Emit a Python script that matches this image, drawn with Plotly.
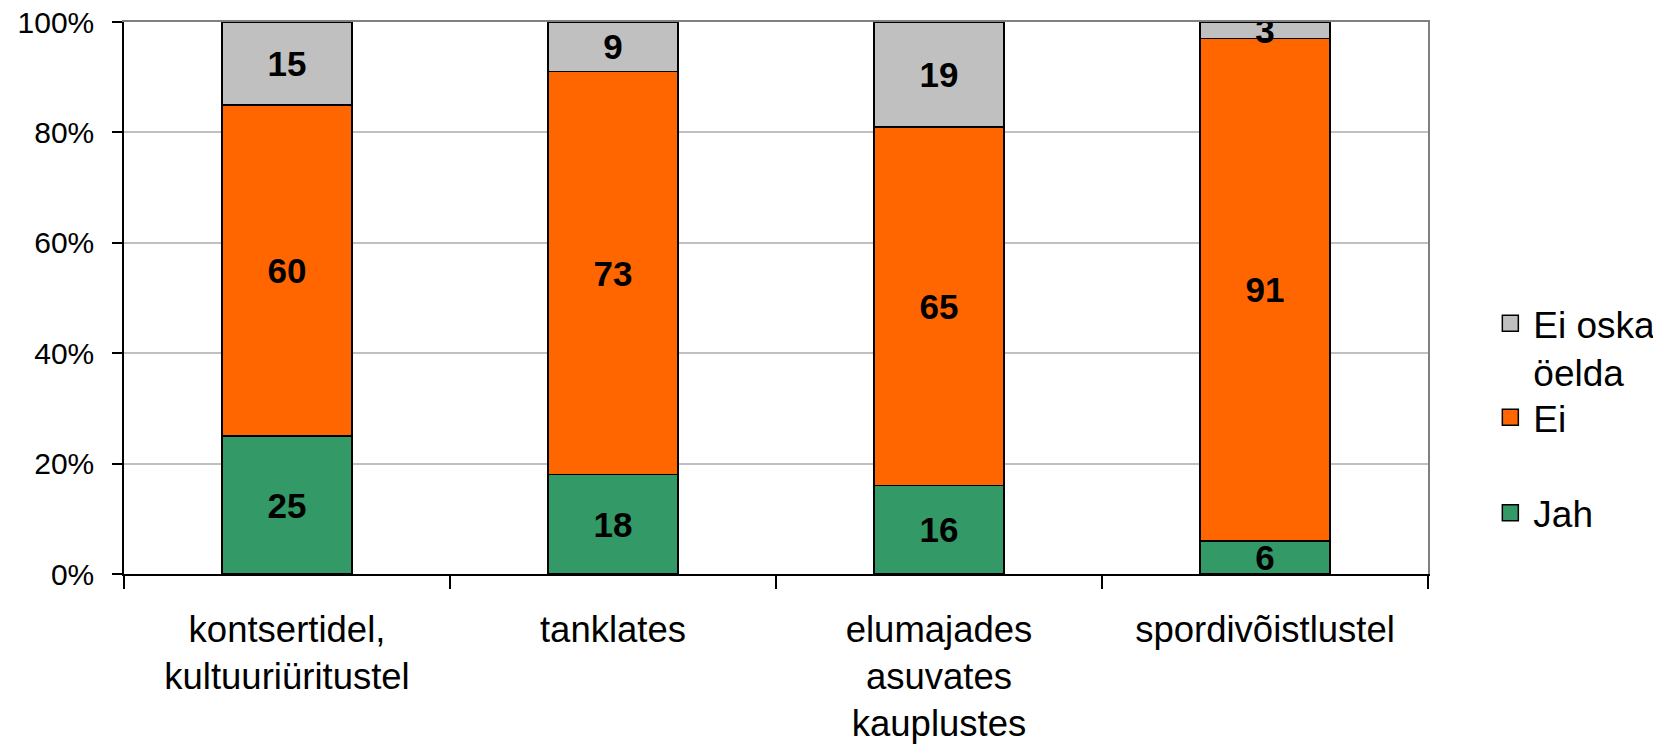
import plotly.graph_objects as go

categories = ["kontsertidel,<br>kultuuriüritustel", "tanklates",
              "elumajades<br>asuvates<br>kauplustes", "spordivõistlustel"]
jah = [25, 18, 16, 6]
ei = [60, 73, 65, 91]
ei_oska = [15, 9, 19, 3]
series_names = ["Jah", "Ei", "Ei oska<br>öelda"]
colors = ["#339966", "#FF6600", "#C0C0C0"]
y_ticks = [0, 20, 40, 60, 80, 100]
y_tick_labels = [f"{v}%" for v in y_ticks]

FONT = "Liberation Sans, Arial, sans-serif"

fig = go.Figure()
for name, vals, col in zip(series_names, [jah, ei, ei_oska], colors):
    fig.add_trace(go.Bar(
        x=categories, y=vals, name=name, showlegend=False,
        marker=dict(color=col, line=dict(color="black", width=1.5)),
        text=vals, textposition="inside", insidetextanchor="middle",
        textangle=0, constraintext="none",
        textfont=dict(family=FONT, size=35, color="black", weight="bold"),
        insidetextfont=dict(family=FONT, size=35, color="black", weight="bold"),
        hoverinfo="skip",
    ))

# legend-only entries, each in its own legend so they can be spaced like the original
legend_ids = ["legend3", "legend2", "legend"]
for name, col, lg in zip(series_names, colors, legend_ids):
    fig.add_trace(go.Scatter(
        x=[None], y=[None], mode="markers", name=name, legend=lg,
        xaxis="x2", yaxis="y2",
        marker=dict(symbol="square", size=22, color=col,
                    line=dict(color="black", width=1.5)),
        hoverinfo="skip",
    ))

leg_common = dict(font=dict(family=FONT, size=37, color="black"),
                  bgcolor="rgba(0,0,0,0)", borderwidth=0, xanchor="left",
                  valign="top", itemwidth=36)
# page body has an 8px default margin: figure is sized so it ends at the window edge
fig.update_layout(
    width=1653, height=739,
    margin=dict(l=116, r=233, t=14, b=173, pad=0, autoexpand=False),
    paper_bgcolor="white", plot_bgcolor="white",
    barmode="stack", bargap=0.6,
    font=dict(family=FONT, color="black"),
    legend=dict(x=1.0455, y=0.41, yanchor="middle", **leg_common),
    legend2=dict(x=1.0455, y=0.283, yanchor="middle", **leg_common),
    legend3=dict(x=1.0455, y=0.11, yanchor="middle", **leg_common),
    xaxis=dict(
        type="category", range=[-0.5, 3.5],
        showline=True, linecolor="black", linewidth=1.5,
        ticks="outside", tickson="boundaries", ticklen=13,
        tickcolor="black", tickwidth=1.5,
        tickfont=dict(family=FONT, size=36.5, color="black"),
        ticklabelstandoff=22, showgrid=False, ticklabeloverflow="allow",
    ),
    yaxis=dict(
        range=[0, 100], tickmode="array", tickvals=y_ticks, ticktext=y_tick_labels,
        showline=True, linecolor="black", linewidth=1.5,
        ticks="outside", ticklen=10, tickcolor="black", tickwidth=1.5,
        tickfont=dict(family=FONT, size=30, color="black"),
        ticklabelstandoff=12, ticklabeloverflow="allow",
        showgrid=True, gridcolor="#C0C0C0", gridwidth=1.5, zeroline=False,
    ),
    yaxis2=dict(
        overlaying="y", side="right", range=[0, 100], anchor="x2",
        showline=True, linecolor="#808080", linewidth=1.5,
        showticklabels=False, ticks="", showgrid=False, zeroline=False,
    ),
    xaxis2=dict(
        overlaying="x", side="top", range=[0, 1], anchor="y2",
        showline=True, linecolor="#808080", linewidth=1.5,
        showticklabels=False, ticks="", showgrid=False, zeroline=False,
    ),
)

fig.write_html("out.html")
